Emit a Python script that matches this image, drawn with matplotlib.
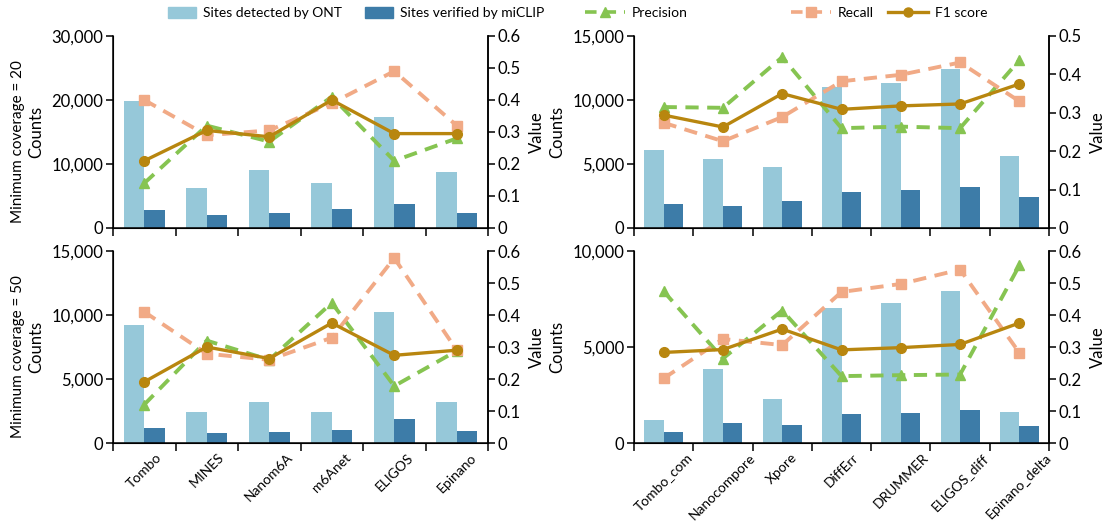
import matplotlib
matplotlib.use("Agg")
import matplotlib.pyplot as plt
from matplotlib.lines import Line2D
from matplotlib.patches import Patch
from matplotlib.ticker import FuncFormatter, MultipleLocator
import numpy as np

plt.rcParams['font.family'] = ['Lato', 'DejaVu Sans']

# Tools (single-sample and comparative)
single_tools = ['Tombo', 'MINES', 'Nanom6A', 'm6Anet', 'ELIGOS', 'Epinano']
compare_tools = ['Tombo_com', 'Nanocompore', 'Xpore', 'DiffErr', 'DRUMMER',
                 'ELIGOS_diff', 'Epinano_delta']

# Minimum coverage = 20
cov20_single_ont = [19800, 6200, 9000, 7100, 17400, 8700]
cov20_single_miclip = [2800, 2000, 2350, 3000, 3700, 2400]
cov20_single_precision = [0.14, 0.32, 0.27, 0.41, 0.21, 0.28]
cov20_single_recall = [0.40, 0.29, 0.305, 0.39, 0.49, 0.32]
cov20_single_f1 = [0.21, 0.305, 0.285, 0.40, 0.295, 0.295]

cov20_comp_ont = [6100, 5400, 4800, 11000, 11300, 12400, 5650]
cov20_comp_miclip = [1900, 1700, 2100, 2850, 3000, 3200, 2450]
cov20_comp_precision = [0.315, 0.313, 0.445, 0.26, 0.264, 0.26, 0.437]
cov20_comp_recall = [0.274, 0.226, 0.289, 0.382, 0.399, 0.431, 0.33]
cov20_comp_f1 = [0.294, 0.263, 0.35, 0.309, 0.318, 0.323, 0.375]

# Minimum coverage = 50
cov50_single_ont = [9250, 2400, 3200, 2400, 10250, 3200]
cov50_single_miclip = [1150, 780, 850, 1050, 1850, 950]
cov50_single_precision = [0.12, 0.32, 0.26, 0.438, 0.178, 0.288]
cov50_single_recall = [0.41, 0.279, 0.26, 0.329, 0.578, 0.29]
cov50_single_f1 = [0.191, 0.30, 0.264, 0.375, 0.274, 0.29]

cov50_comp_ont = [1200, 3850, 2270, 7050, 7300, 7900, 1600]
cov50_comp_miclip = [570, 1020, 950, 1500, 1550, 1700, 900]
cov50_comp_precision = [0.474, 0.264, 0.414, 0.209, 0.212, 0.214, 0.555]
cov50_comp_recall = [0.202, 0.325, 0.306, 0.472, 0.497, 0.542, 0.282]
cov50_comp_f1 = [0.283, 0.292, 0.356, 0.291, 0.298, 0.308, 0.375]

c_ont = '#96c8d9'
c_miclip = '#3d7ca8'
c_prec = '#86c451'
c_rec = '#f1aa86'
c_f1 = '#b8860f'

fig = plt.figure(figsize=(11.13, 5.23), dpi=100)
W, H = 1113, 523


def panel(rect_px, tools, ont, miclip, prec, rec, f1, ymax, ystep, vmax, show_labels):
    l, t, r, b = rect_px
    ax = fig.add_axes([l / W, 1 - b / H, (r - l) / W, (b - t) / H])
    n = len(tools)
    x = np.arange(n)
    bw = 0.33
    ax.bar(x - bw / 2, ont, width=bw, color=c_ont, zorder=2)
    ax.bar(x + bw / 2, miclip, width=bw, color=c_miclip, zorder=2)
    ax.set_xlim(-0.5, n - 0.5)
    ax.set_ylim(0, ymax)
    ax.yaxis.set_major_locator(MultipleLocator(ystep))
    ax.yaxis.set_major_formatter(FuncFormatter(lambda v, p: f'{v:,.0f}'))
    ax.set_xticks(np.arange(n + 1) - 0.5)
    ax.set_xticklabels([])
    ax.set_xticks(x, minor=True)
    if show_labels:
        ax.set_xticklabels(tools, minor=True, rotation=45, fontsize=10)
    ax.tick_params(axis='x', which='minor', length=0, pad=6)
    ax.tick_params(axis='x', which='major', length=6, width=1.1, direction='out')
    ax.tick_params(axis='y', length=5, width=1.1, labelsize=12, pad=2)
    ax.spines['top'].set_visible(False)
    for s in ['left', 'bottom', 'right']:
        ax.spines[s].set_linewidth(1.1)
    ax.set_ylabel('Counts', fontsize=12, labelpad=5)

    ax2 = ax.twinx()
    ax2.set_ylim(0, vmax)
    ax2.yaxis.set_major_locator(MultipleLocator(0.1))
    ax2.yaxis.set_major_formatter(FuncFormatter(lambda v, p: f'{v:g}'))
    ax2.tick_params(axis='y', length=5, width=1.1, labelsize=12, pad=2)
    ax2.spines['top'].set_visible(False)
    ax2.spines['right'].set_linewidth(1.1)
    ax2.set_ylabel('Value', fontsize=12, labelpad=6)

    ax2.plot(x, prec, color=c_prec, lw=2.8, dashes=(3.4, 2.2), marker='^', ms=7.5, zorder=3)
    ax2.plot(x, rec, color=c_rec, lw=2.8, dashes=(3.4, 2.2), marker='s', ms=7, zorder=3)
    ax2.plot(x, f1, color=c_f1, lw=2.4, marker='o', ms=7, zorder=4)
    return ax


ax_a = panel((113, 36, 488, 228), single_tools, cov20_single_ont, cov20_single_miclip,
             cov20_single_precision, cov20_single_recall, cov20_single_f1,
             30000, 10000, 0.6, False)
ax_b = panel((634, 36, 1049, 228), compare_tools, cov20_comp_ont, cov20_comp_miclip,
             cov20_comp_precision, cov20_comp_recall, cov20_comp_f1,
             15000, 5000, 0.5, False)
ax_c = panel((113, 251, 488, 443), single_tools, cov50_single_ont, cov50_single_miclip,
             cov50_single_precision, cov50_single_recall, cov50_single_f1,
             15000, 5000, 0.6, True)
ax_d = panel((634, 251, 1049, 443), compare_tools, cov50_comp_ont, cov50_comp_miclip,
             cov50_comp_precision, cov50_comp_recall, cov50_comp_f1,
             10000, 5000, 0.6, True)

fig.text(18 / W, 1 - 142 / H, 'Minimum coverage = 20', rotation=90,
         ha='center', va='center', fontsize=11)
fig.text(18 / W, 1 - 357 / H, 'Minimum coverage = 50', rotation=90,
         ha='center', va='center', fontsize=11)

# legend entries placed along the top row
handles = [
    Patch(color=c_ont),
    Patch(color=c_miclip),
    Line2D([], [], color=c_prec, lw=2.6, dashes=(3.2, 2.2), marker='^', ms=7),
    Line2D([], [], color=c_rec, lw=2.6, dashes=(3.2, 2.2), marker='s', ms=6.5),
    Line2D([], [], color=c_f1, lw=2.4, marker='o', ms=6.5),
]
labels = ['Sites detected by ONT', 'Sites verified by miCLIP', 'Precision', 'Recall', 'F1 score']
starts = [168, 365, 585, 791, 888]
hlens = [2.0, 2.0, 2.9, 2.9, 2.9]
for h, lab, xs, hl in zip(handles, labels, starts, hlens):
    fig.legend([h], [lab], loc='center left', bbox_to_anchor=(xs / W, 1 - 13 / H),
               frameon=False, fontsize=10, handlelength=hl, handleheight=0.9,
               handletextpad=0.5, borderpad=0, borderaxespad=0)

fig.savefig('out.png', dpi=100)
